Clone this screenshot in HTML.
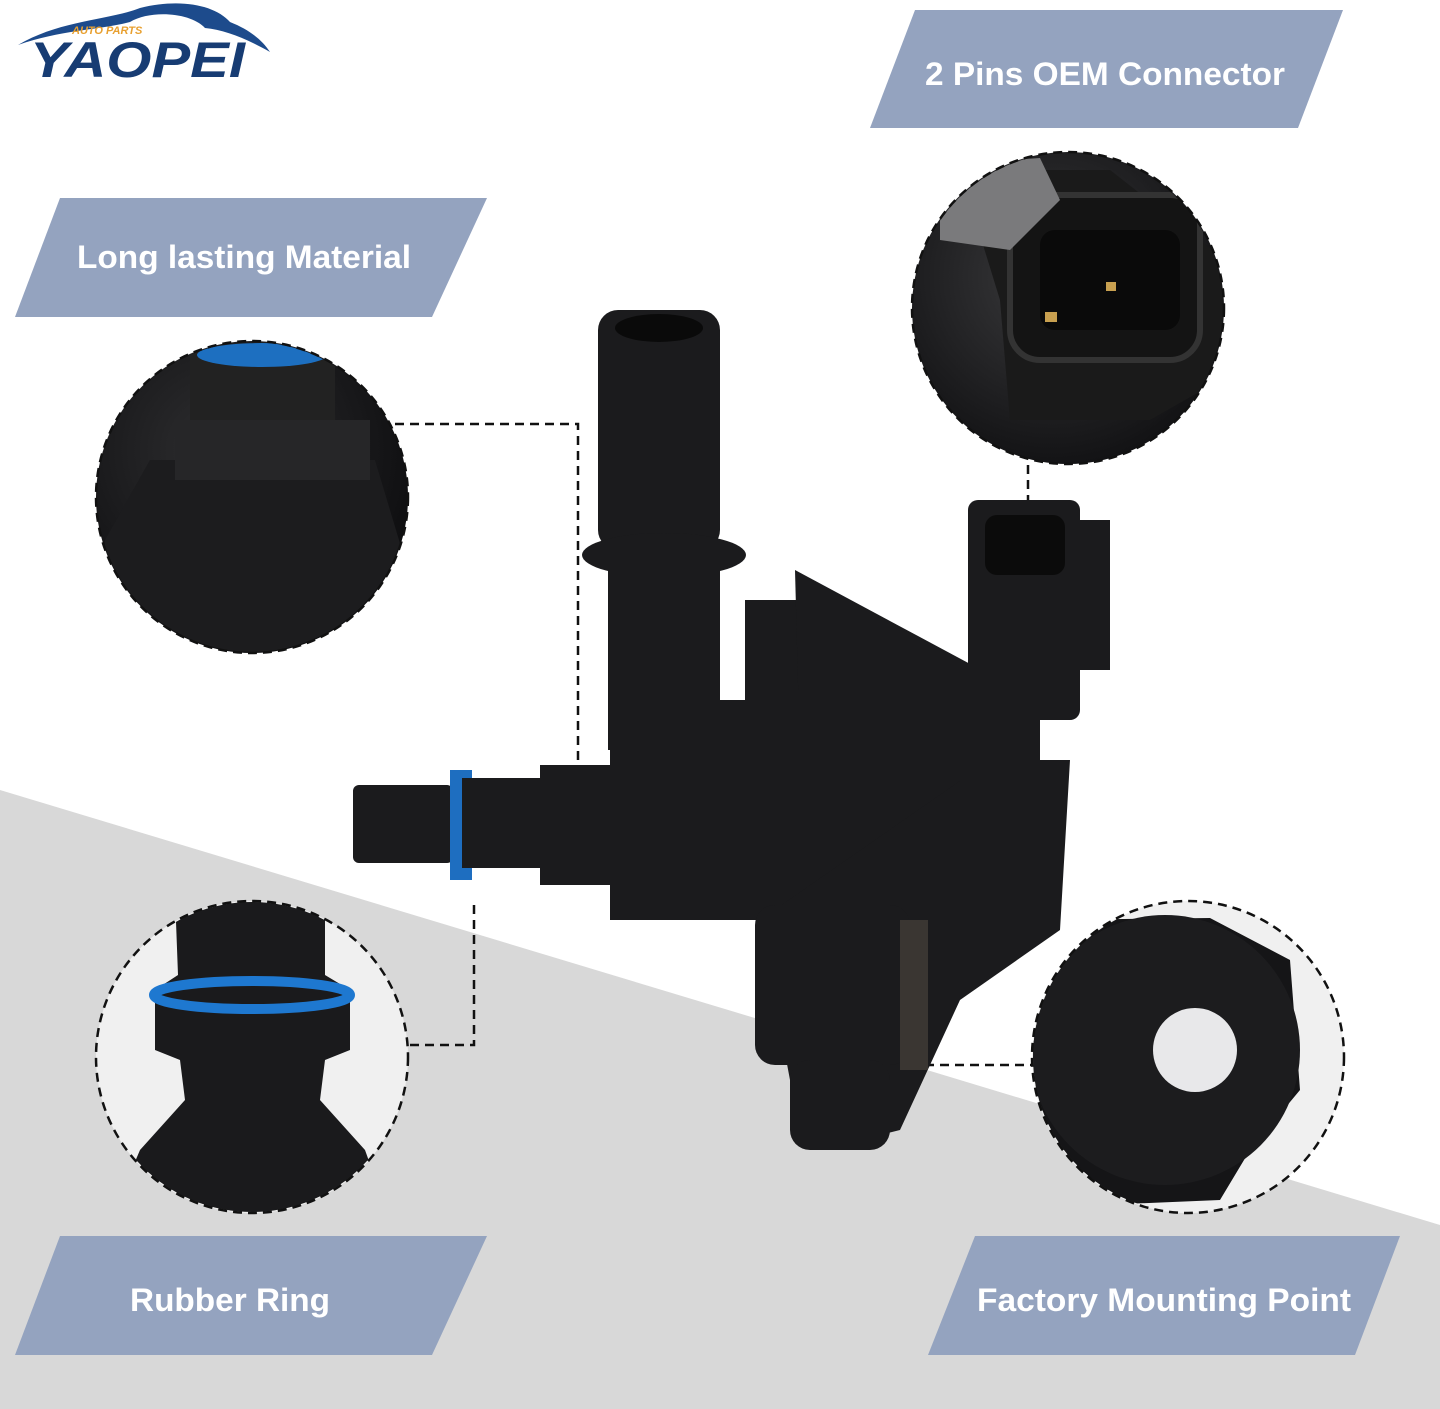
<!DOCTYPE html>
<html><head><meta charset="utf-8"><style>
html,body{margin:0;padding:0}
body{width:1440px;height:1409px;position:relative;overflow:hidden;background:#fff;font-family:"Liberation Sans",sans-serif}
svg{position:absolute;left:0;top:0}
</style></head><body>
<svg width="1440" height="1409" viewBox="0 0 1440 1409">
<defs>
<radialGradient id="g1" cx="45%" cy="40%" r="65%"><stop offset="0" stop-color="#3a3a3c"/><stop offset="1" stop-color="#101012"/></radialGradient>
<radialGradient id="g2" cx="40%" cy="35%" r="70%"><stop offset="0" stop-color="#2e2e30"/><stop offset="1" stop-color="#0c0c0e"/></radialGradient>
<clipPath id="c1"><circle cx="1068" cy="308" r="155"/></clipPath>
<clipPath id="c2"><circle cx="252" cy="497" r="155"/></clipPath>
<clipPath id="c3"><circle cx="252" cy="1057" r="155"/></clipPath>
<clipPath id="c4"><circle cx="1188" cy="1057" r="155"/></clipPath>
</defs>
<polygon points="0,790 1440,1225 1440,1409 0,1409" fill="#d8d8d8"/>
<!-- logo -->
<path d="M18,45 C60,20 110,20 140,8 C180,-2 215,5 230,22 C250,30 262,40 270,52 C245,38 225,30 205,28 C190,12 150,10 130,22 C100,30 60,30 18,45Z" fill="#1d4b8c"/>
<text x="72" y="34" font-size="11" font-style="italic" font-weight="bold" fill="#e8a030">AUTO PARTS</text>
<text x="30" y="77" font-size="50" font-style="italic" font-weight="bold" fill="#173c73" textLength="215" lengthAdjust="spacingAndGlyphs">YAOPEI</text>
<g fill="#94a3bf">
<polygon points="915,10 1343,10 1298,128 870,128"/>
<polygon points="60,198 487,198 432,317 15,317"/>
<polygon points="60,1236 487,1236 432,1355 15,1355"/>
<polygon points="975,1236 1400,1236 1355,1355 928,1355"/>
</g>
<g fill="#fff" font-weight="bold" font-size="32">
<text x="1105" y="85" text-anchor="middle" textLength="360" lengthAdjust="spacingAndGlyphs">2 Pins OEM Connector</text>
<text x="244" y="268" text-anchor="middle" textLength="334" lengthAdjust="spacingAndGlyphs">Long lasting Material</text>
<text x="230" y="1311" text-anchor="middle" textLength="200" lengthAdjust="spacingAndGlyphs">Rubber Ring</text>
<text x="1164" y="1311" text-anchor="middle" textLength="374" lengthAdjust="spacingAndGlyphs">Factory Mounting Point</text>
</g>
<g stroke="#111" stroke-width="2.5" stroke-dasharray="9,6" fill="none">
<polyline points="395,424 578,424 578,770"/>
<polyline points="474,905 474,1045 405,1045"/>
<line x1="1028" y1="465" x2="1028" y2="500"/>
<line x1="925" y1="1065" x2="1032" y2="1065"/>
</g>
<circle cx="1068" cy="308" r="156" fill="url(#g1)"/>
<circle cx="252" cy="497" r="156" fill="url(#g2)"/>
<circle cx="252" cy="1057" r="156" fill="#f0f0f0"/>
<circle cx="1188" cy="1057" r="156" fill="#f0f0f0"/>
<g clip-path="url(#c1)">
<polygon points="960,170 1110,170 1225,260 1220,380 1150,420 1010,420 1000,300" fill="#1a1a1a"/>
<rect x="1010" y="195" width="190" height="165" rx="30" fill="#141414" stroke="#333" stroke-width="6"/>
<rect x="1040" y="230" width="140" height="100" rx="15" fill="#0a0a0a"/>
<rect x="1045" y="312" width="12" height="10" fill="#c8a050"/><rect x="1106" y="282" width="10" height="9" fill="#c8a050"/>
<polygon points="940,165 1040,158 1060,200 1010,250 940,240" fill="#7a7a7c"/>
</g>
<g clip-path="url(#c2)">
<rect x="190" y="345" width="145" height="80" fill="#222"/>
<ellipse cx="262" cy="355" rx="65" ry="12" fill="#1d6fc0"/>
<path d="M150,460 L375,460 L405,560 L400,660 L100,660 L105,540Z" fill="#1c1c1e"/>
<rect x="175" y="420" width="195" height="60" fill="#262628"/>
</g>
<g clip-path="url(#c3)">
<path d="M175,895 L325,895 L325,975 L350,990 L350,1050 L325,1060 L320,1100 L365,1150 L390,1220 L110,1220 L140,1150 L185,1100 L180,1060 L155,1050 L155,990 L178,975Z" fill="#1a1a1c"/>
<ellipse cx="252" cy="995" rx="98" ry="14" fill="none" stroke="#1e78d0" stroke-width="10"/>
</g>
<g clip-path="url(#c4)">
<path d="M1040,920 L1210,918 L1290,960 L1300,1090 L1250,1150 L1220,1200 L1100,1205 L1040,1140 L1032,1040Z" fill="#151517"/>
<circle cx="1165" cy="1050" r="135" fill="#1c1c1e"/>
<circle cx="1195" cy="1050" r="42" fill="#e8e8ea"/>
</g>
<g fill="none" stroke="#111" stroke-width="2.5" stroke-dasharray="9,6">
<circle cx="1068" cy="308" r="156"/>
<circle cx="252" cy="497" r="156"/>
<circle cx="252" cy="1057" r="156"/>
<circle cx="1188" cy="1057" r="156"/>
</g>
<g fill="#1b1b1d">
<rect x="598" y="310" width="122" height="240" rx="20"/>
<ellipse cx="659" cy="328" rx="44" ry="14" fill="#0a0a0a"/>
<ellipse cx="664" cy="555" rx="82" ry="22"/>
<rect x="608" y="560" width="112" height="190"/>
<path d="M610,700 L760,700 L775,920 L610,920Z"/>
<rect x="353" y="785" width="100" height="78" rx="6"/>
<rect x="450" y="770" width="22" height="110" fill="#1e6ec0"/>
<rect x="462" y="778" width="90" height="90"/>
<rect x="540" y="765" width="80" height="120"/>
<rect x="745" y="600" width="60" height="110"/>
<polygon points="795,570 1000,680 1000,760 800,760"/>
<rect x="760" y="690" width="240" height="230"/>
<path d="M990,760 L1070,760 L1060,930 L960,1000 L900,1130 L820,1150 L790,1080 L760,920Z"/>
<rect x="968" y="500" width="112" height="220" rx="10"/>
<rect x="1075" y="520" width="35" height="150"/>
<rect x="960" y="690" width="80" height="110"/>
<rect x="755" y="905" width="155" height="160" rx="20"/>
<rect x="900" y="920" width="28" height="150" fill="#3a3632"/>
<rect x="790" y="1060" width="100" height="90" rx="20"/>
</g>
<rect x="985" y="515" width="80" height="60" rx="12" fill="#0b0b0b"/>
</svg>
</body></html>
